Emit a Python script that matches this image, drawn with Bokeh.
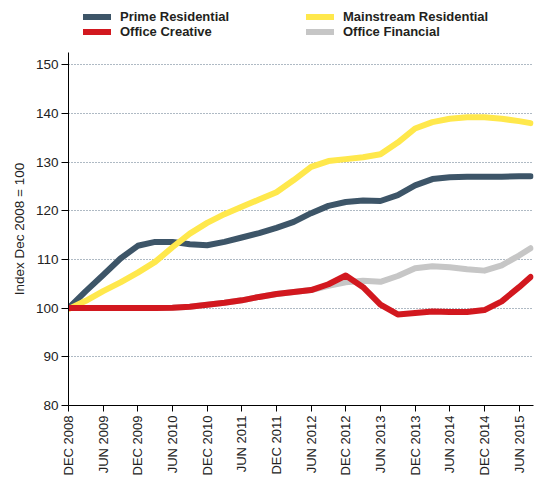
import math
from bokeh.plotting import figure
from bokeh.layouts import column
from bokeh.models import Range1d, FixedTicker, Legend, LegendItem
from bokeh.embed import file_html
from bokeh.resources import INLINE

# months since Dec 2008
months = [0, 3, 6, 9, 12, 15, 18, 21, 24, 27, 30, 33, 36, 39, 42, 45, 48, 51,
          54, 57, 60, 63, 66, 69, 72, 75, 78, 80]

tick_months = [0, 6, 12, 18, 24, 30, 36, 42, 48, 54, 60, 66, 72, 78]
tick_labels = ["DEC 2008", "JUN 2009", "DEC 2009", "JUN 2010", "DEC 2010",
               "JUN 2011", "DEC 2011", "JUN 2012", "DEC 2012", "JUN 2013",
               "DEC 2013", "JUN 2014", "DEC 2014", "JUN 2015"]

prime_residential = [100, 103.5, 106.8, 110.2, 112.8, 113.6, 113.6, 113.1, 112.9,
                     113.6, 114.5, 115.4, 116.5, 117.7, 119.5, 121.0, 121.8, 122.1,
                     122.0, 123.2, 125.2, 126.5, 126.9, 127.0, 127.0, 127.0, 127.1, 127.1]

mainstream_residential = [99.8, 101.5, 103.5, 105.3, 107.3, 109.5, 112.5, 115.3, 117.5,
                          119.3, 120.8, 122.3, 123.8, 126.3, 129.0, 130.2, 130.6, 131.0,
                          131.6, 134.0, 136.9, 138.2, 138.9, 139.2, 139.2, 138.9, 138.4, 138.0]

office_creative = [100, 100, 100, 100, 100, 100.05, 100.1, 100.3, 100.7,
                   101.1, 101.6, 102.3, 102.9, 103.3, 103.7, 104.9, 106.7, 104.3,
                   100.7, 98.7, 99.0, 99.3, 99.2, 99.2, 99.6, 101.4, 104.3, 106.4]

office_financial = [100, 100, 100, 100, 100, 100.05, 100.1, 100.3, 100.7,
                    101.1, 101.6, 102.3, 102.9, 103.3, 103.7, 104.6, 105.3, 105.6,
                    105.4, 106.6, 108.2, 108.6, 108.4, 108.0, 107.7, 108.8, 110.8, 112.3]

series_names = ["Prime Residential", "Mainstream Residential",
                "Office Creative", "Office Financial"]

y_ticks = [80, 90, 100, 110, 120, 130, 140, 150]

C_PRIME = "#3d5568"
C_MAIN = "#ffe84c"
C_CREAT = "#d2181f"
C_FIN = "#c6c6c6"

FONT = "Liberation Sans"
lw = 6
line_kw = dict(line_width=lw, line_cap="round", line_join="round")

# ---- main chart ----
p = figure(width=534, height=434, output_backend="svg", toolbar_location=None,
           x_range=Range1d(0, 80.5), y_range=Range1d(80, 152.5),
           min_border_left=68, min_border_right=1, min_border_top=8,
           min_border_bottom=73)
p.outline_line_color = None
p.background_fill_color = "white"

p.line(months, office_financial, line_color=C_FIN, **line_kw)
p.line(months, prime_residential, line_color=C_PRIME, **line_kw)
p.line(months, mainstream_residential, line_color=C_MAIN, **line_kw)
p.line(months, office_creative, line_color=C_CREAT, **line_kw)

p.xaxis.ticker = FixedTicker(ticks=tick_months)
p.xaxis.major_label_overrides = {m: l for m, l in zip(tick_months, tick_labels)}
p.xaxis.major_label_orientation = math.pi / 2
p.xaxis.minor_tick_line_color = None
p.xaxis.major_tick_in = 0
p.xaxis.major_tick_out = 6
p.xaxis.major_label_standoff = 4
p.xaxis.major_label_text_font = FONT
p.xaxis.major_label_text_font_size = "13px"
p.xaxis.major_label_text_color = "#222222"
p.xaxis.axis_line_color = "black"

p.yaxis.ticker = FixedTicker(ticks=y_ticks)
p.yaxis.minor_tick_line_color = None
p.yaxis.major_tick_in = 0
p.yaxis.major_tick_out = 7
p.yaxis.major_label_standoff = 3
p.yaxis.major_label_text_font = FONT
p.yaxis.major_label_text_font_size = "13.5px"
p.yaxis.major_label_text_color = "#222222"
p.yaxis.axis_label = "Index Dec 2008 = 100"
p.yaxis.axis_label_text_font = FONT
p.yaxis.axis_label_text_font_size = "13.5px"
p.yaxis.axis_label_text_font_style = "normal"
p.yaxis.axis_label_text_color = "#222222"
p.yaxis.axis_label_standoff = 6

p.xgrid.grid_line_color = None
p.ygrid.ticker = FixedTicker(ticks=[90, 100, 110, 120, 130, 140, 150])
p.ygrid.grid_line_color = "#5f7489"
p.ygrid.grid_line_dash = "1 2"
p.ygrid.grid_line_width = 1

# ---- legend strip (its lines fall outside its own view; only the legend shows) ----
lg = figure(width=534, height=44, output_backend="svg", toolbar_location=None,
            x_range=Range1d(0, 1), y_range=Range1d(0, 1),
            x_axis_location=None, y_axis_location=None,
            min_border_left=0, min_border_right=0, min_border_top=0,
            min_border_bottom=0)
lg.outline_line_color = None
lg.grid.grid_line_color = None
lg_renderers = []
for vals, col in zip([prime_residential, mainstream_residential,
                      office_creative, office_financial],
                     [C_PRIME, C_MAIN, C_CREAT, C_FIN]):
    lg_renderers.append(lg.line(months, vals, line_color=col, **line_kw))

legend = Legend(items=[LegendItem(label=n, renderers=[r])
                       for n, r in zip(series_names, lg_renderers)],
                ncols=2, orientation="horizontal")
legend.location = (15, 5)
legend.border_line_color = None
legend.background_fill_alpha = 0
legend.padding = 0
legend.spacing = 0
legend.margin = 0
legend.glyph_width = 28
legend.glyph_height = 13
legend.label_height = 13
legend.label_width = 186
legend.label_standoff = 9
legend.label_text_font = FONT
legend.label_text_font_size = "13px"
legend.label_text_font_style = "bold"
legend.label_text_color = "#231f20"
legend.label_text_line_height = 1.0
lg.add_layout(legend, "center")

layout = column(lg, p, spacing=0)
open("out.html", "w").write(file_html(layout, INLINE))
